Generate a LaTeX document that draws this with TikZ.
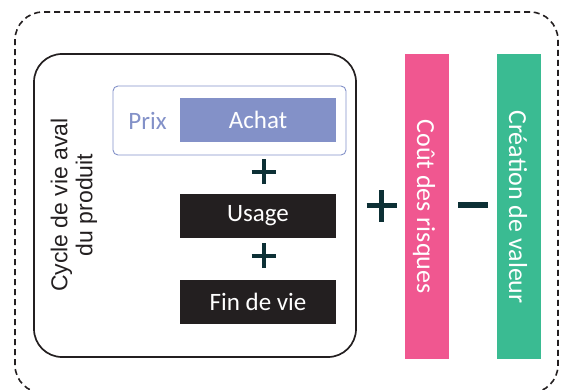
\documentclass[tikz,border=0pt]{standalone}
\usepackage{fontspec}
\setmainfont{Carlito}
\newfontfamily\arialf{Liberation Sans}
\definecolor{achatc}{HTML}{8391C8}
\definecolor{pinkc}{HTML}{F05790}
\definecolor{greenc}{HTML}{3ABB92}
\definecolor{blackc}{HTML}{231F20}
\definecolor{opc}{HTML}{0D3035}
\begin{document}
\begin{tikzpicture}[x=1pt,y=-1pt,
  boxtext/.style={font=\fontsize{25}{28}\selectfont},
  darkbox/.style={boxtext,fill=blackc,text=white,minimum width=156pt,minimum height=44pt,inner sep=0pt},
  bar/.style={minimum width=44pt,minimum height=305pt,inner sep=0pt},
  bartext/.style={rotate=-90,anchor=base,text=white,inner sep=0pt,font=\fontsize{26}{28}\selectfont},
  opline/.style={draw=opc,line width=4pt},
]
\useasboundingbox (0,0) rectangle (561,390);
% outer dashed frame
\node[draw=blackc,dash pattern=on 6pt off 4pt,line width=1.6pt,rounded corners=28pt,minimum width=543pt,minimum height=381pt,inner sep=0pt] (outer) at (286.5,202.5) {};
% inner frame
\node[draw=blackc,line width=1.7pt,rounded corners=28pt,minimum width=322pt,minimum height=303pt,inner sep=0pt] (inner) at (195,205.5) {};
% Prix box
\node[draw=achatc,line width=0.9pt,rounded corners=5pt,minimum width=233pt,minimum height=69pt,inner sep=0pt] (prixbox) at (229.5,120.5) {};
\node[boxtext,fill=achatc,text=white,minimum width=156pt,minimum height=44pt,inner sep=0pt] (achat) at (258,120) {Achat};
\node[boxtext,text=achatc,inner sep=0pt,anchor=base] (prix) at (147.5,129.5) {Prix};
\node[darkbox] (usage) at (258,216) {Usage};
\node[darkbox] (fin) at (258,301.5) {Fin de vie};
% plus and minus signs
\coordinate (p1) at (263.5,171.5);
\coordinate (p2) at (263.5,255.5);
\coordinate (p3) at (381.5,205.5);
\coordinate (m1) at (473,205);
\draw[opline] ([xshift=-12pt]p1) -- ([xshift=12pt]p1) ([yshift=-12.5pt]p1) -- ([yshift=12.5pt]p1);
\draw[opline] ([xshift=-12pt]p2) -- ([xshift=12pt]p2) ([yshift=-12.5pt]p2) -- ([yshift=12.5pt]p2);
\draw[opline,line width=5.5pt] ([xshift=-15pt]p3) -- ([xshift=15pt]p3) ([yshift=-16pt]p3) -- ([yshift=16pt]p3);
\draw[opline,line width=5.5pt] ([xshift=-15pt]m1) -- ([xshift=15pt]m1);
% rotated left label
\node[rotate=90,align=center,text=blackc,font=\arialf\fontsize{23}{25}\selectfont,inner sep=0pt] (cycle) at (74,205) {Cycle de vie aval\\du produit};
% bars
\node[bar,fill=pinkc] (pink) at (427,206.5) {};
\node[bartext] (cout) at (417,206.5) {Coût des risques};
\node[bar,fill=greenc] (green) at (519,206.5) {};
\node[bartext] (crea) at (509,207) {Création de valeur};
\end{tikzpicture}
\end{document}
